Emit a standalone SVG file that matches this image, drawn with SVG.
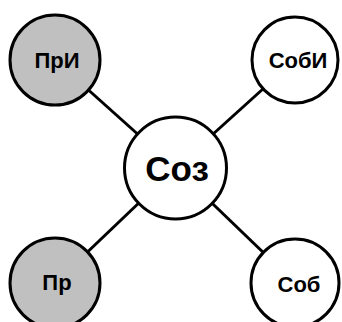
<svg xmlns="http://www.w3.org/2000/svg" width="342" height="322" viewBox="0 0 342 322">
<style>
.n{stroke:#000;stroke-width:3}
.g{fill:#c0c0c0}
.w{fill:#fff}
.t{font-family:"Liberation Sans",Arial,sans-serif;font-weight:bold;fill:#000;text-anchor:middle}
.s{font-size:22px}
.b{font-size:35px}
.c{stroke:#000;stroke-width:3;fill:none}
</style>
<rect width="342" height="322" fill="#fff"/>
<g id="connectors">
<line class="c" x1="55" y1="60" x2="175.5" y2="168"/>
<line class="c" x1="295" y1="60" x2="175.5" y2="168"/>
<line class="c" x1="55" y1="283" x2="175.5" y2="168"/>
<line class="c" x1="295" y1="283" x2="175.5" y2="168"/>
</g>
<g id="n-pri"><circle class="n g" cx="55" cy="60" r="45"/><text class="t s" x="57" y="68">ПрИ</text></g>
<g id="n-sobi"><circle class="n w" cx="295" cy="60" r="43"/><text class="t s" x="298" y="68">СобИ</text></g>
<g id="n-pr"><circle class="n g" cx="55" cy="283" r="45"/><text class="t s" x="57" y="290">Пр</text></g>
<g id="n-sob"><circle class="n w" cx="295" cy="283" r="44"/><text class="t s" x="299" y="292">Соб</text></g>
<g id="n-soz"><circle class="n w" cx="175.5" cy="168" r="51"/><text class="t b" x="177" y="181">Соз</text></g>
</svg>
